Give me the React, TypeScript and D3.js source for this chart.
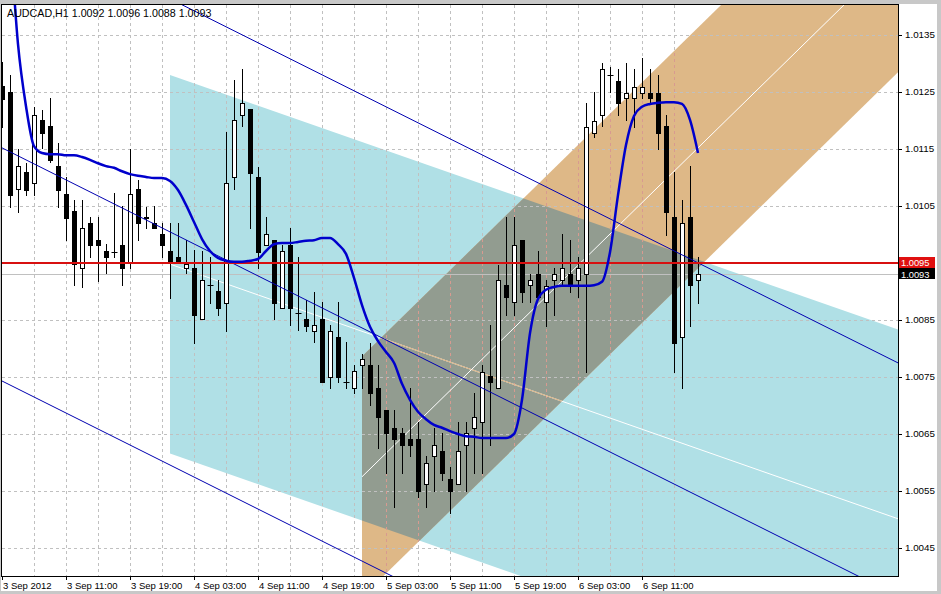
import React from 'react';
import * as d3 from 'd3';

const W = 941;
const H = 594;
const PL = 2, PR = 898, PT = 5, PB = 576;

const titleText = 'AUDCAD,H1  1.0092 1.0096 1.0088 1.0093';

const opens = [1.01261,1.01250,1.01080,1.01110,1.01090,1.01201,1.01190,1.01120,1.01071,1.01041,
1.00941,1.01020,1.00990,1.00971,1.00969,1.00982,1.00950,1.01080,1.01031,1.01020,
1.01001,1.00971,1.00961,1.00941,1.00941,1.00852,1.00911,1.00901,1.00880,1.01101,
1.01210,1.01220,1.01101,1.00982,1.00990,1.00871,1.00982,1.00862,1.00852,1.00831,
1.00852,1.00750,1.00820,1.00741,1.00731,1.00771,1.00771,1.00731,1.00692,1.00661,
1.00652,1.00641,1.00641,1.00562,1.00611,1.00620,1.00571,1.00562,1.00631,1.00661,
1.00671,1.00752,1.00731,1.00911,1.00882,1.00990,1.00911,1.00931,1.00882,1.00920,
1.00920,1.00931,1.00920,1.00931,1.01178,1.01210,1.01280,1.01269,1.01240,1.01240,
1.01248,1.01248,1.01248,1.01190,1.01031,1.00820,1.01031,1.00920];
const highs = [1.01303,1.01280,1.01150,1.01125,1.01224,1.01218,1.01240,1.01161,1.01101,1.01061,
1.01061,1.01031,1.01031,1.00983,1.01073,1.01050,1.01150,1.01096,1.01048,1.01050,
1.01020,1.01020,1.01020,1.00990,1.00973,1.00971,1.00961,1.00920,1.01180,1.01271,
1.01290,1.01220,1.01118,1.01031,1.00990,1.00982,1.01011,1.00961,1.00885,1.00899,
1.00882,1.00841,1.00882,1.00811,1.00771,1.00790,1.00810,1.00771,1.00692,1.00692,
1.00661,1.00731,1.00671,1.00611,1.00661,1.00652,1.00592,1.00671,1.00671,1.00722,
1.00771,1.00841,1.00947,1.01031,1.01031,1.00990,1.00931,1.00971,1.00920,1.00941,
1.01001,1.00990,1.00961,1.01231,1.01250,1.01301,1.01294,1.01290,1.01301,1.01290,
1.01310,1.01290,1.01280,1.01210,1.01110,1.01061,1.01120,1.00960];
const lows = [1.01189,1.01048,1.01040,1.01069,1.01069,1.01152,1.01127,1.01048,1.00990,1.00911,
1.00908,1.00961,1.00918,1.00933,1.00961,1.00911,1.00941,1.00990,1.01011,1.01011,
1.00961,1.00889,1.00950,1.00933,1.00810,1.00852,1.00880,1.00859,1.00831,1.01080,
1.01190,1.01011,1.00941,1.00982,1.00852,1.00871,1.00841,1.00833,1.00831,1.00811,
1.00741,1.00731,1.00741,1.00731,1.00722,1.00731,1.00701,1.00625,1.00582,1.00522,
1.00582,1.00611,1.00540,1.00522,1.00550,1.00569,1.00511,1.00562,1.00550,1.00582,
1.00582,1.00631,1.00731,1.00859,1.00859,1.00882,1.00882,1.00890,1.00840,1.00859,
1.00910,1.00899,1.00890,1.00759,1.01171,1.01190,1.01250,1.01210,1.01201,1.01189,
1.01240,1.01231,1.01150,1.00999,1.00759,1.00731,1.00840,1.00880];
const closes = [1.01238,1.01069,1.01120,1.01078,1.01210,1.01178,1.01131,1.01078,1.01029,1.00948,
1.01011,1.00982,1.00982,1.00961,1.00969,1.00941,1.01071,1.01020,1.01029,1.01011,
1.00982,1.00950,1.00950,1.00948,1.00859,1.00920,1.00911,1.00871,1.01090,1.01201,
1.01231,1.01108,1.00969,1.01001,1.00880,1.00971,1.00871,1.00862,1.00840,1.00841,
1.00741,1.00831,1.00750,1.00741,1.00761,1.00782,1.00722,1.00680,1.00652,1.00641,
1.00631,1.00631,1.00550,1.00599,1.00631,1.00582,1.00550,1.00620,1.00652,1.00680,
1.00759,1.00741,1.00920,1.00890,1.00982,1.00899,1.00920,1.00890,1.00910,1.00931,
1.00941,1.00910,1.00941,1.01189,1.01199,1.01290,1.01280,1.01231,1.01248,1.01259,
1.01259,1.01240,1.01178,1.01040,1.00810,1.01020,1.00911,1.00930];

const maValues = [1.01710,1.01525,1.01334,1.01225,1.01155,1.01143,1.01141,1.01141,1.01139,1.01139,
1.01136,1.01131,1.01125,1.01120,1.01117,1.01111,1.01106,1.01103,1.01101,1.01099,
1.01099,1.01094,1.01078,1.01052,1.01022,1.00992,1.00971,1.00959,1.00954,1.00952,
1.00952,1.00954,1.00957,1.00971,1.00983,1.00985,1.00985,1.00987,1.00989,1.00990,
1.00994,1.00994,1.00983,1.00966,1.00924,1.00876,1.00838,1.00813,1.00794,1.00775,
1.00738,1.00710,1.00689,1.00676,1.00666,1.00661,1.00655,1.00650,1.00646,1.00645,
1.00643,1.00643,1.00643,1.00643,1.00650,1.00710,1.00827,1.00887,1.00903,1.00908,
1.00910,1.00910,1.00910,1.00910,1.00911,1.00917,1.00969,1.01069,1.01157,1.01208,
1.01224,1.01229,1.01231,1.01232,1.01232,1.01229,1.01201,1.01143];

const priceTicks = [1.0045,1.0055,1.0065,1.0075,1.0085,1.0095,1.0105,1.0115,1.0125,1.0135];
const timeLabels = ['3 Sep 2012','3 Sep 11:00','3 Sep 19:00','4 Sep 03:00','4 Sep 11:00','4 Sep 19:00','5 Sep 03:00','5 Sep 11:00','5 Sep 19:00','6 Sep 03:00','6 Sep 11:00'];
const timeLabelBars = [0,8,16,24,32,40,48,56,64,72,80];

const redLevel = 1.0095;
const bidLevel = 1.0093;

// channels: midline anchor points (bar, price) and half-width in price
const blueChannel = { startBar: 0, startMid: 1.01152, endBar: 100, endMid: 1.00450, halfWidth: 0.00409 };
const cyanChannel = { startBar: 21, startMid: 1.00948, endBar: 87, endMid: 1.00624, halfWidth: 0.00332 };
const orangeChannel = { startBar: 45, startMid: 1.00575, endBar: 87, endMid: 1.01152, halfWidth: 0.00211 };

const LAST_BAR = 112;

const FONT = "'Liberation Sans', Arial, sans-serif";

type Ch = { startBar: number; startMid: number; endBar: number; endMid: number; halfWidth: number };
const midAt = (c: Ch, b: number) => c.startMid + (c.endMid - c.startMid) * (b - c.startBar) / (c.endBar - c.startBar);

export default function App() {
  const x = d3.scaleLinear().domain([0, LAST_BAR]).range([PL, PR]);
  const y = d3.scaleLinear().domain([1.0135, 1.0045]).range([35, 548]);

  const chPoly = (c: Ch, from: number) => {
    const pts: [number, number][] = [
      [x(from), y(midAt(c, from) + c.halfWidth)],
      [x(LAST_BAR), y(midAt(c, LAST_BAR) + c.halfWidth)],
      [x(LAST_BAR), y(midAt(c, LAST_BAR) - c.halfWidth)],
      [x(from), y(midAt(c, from) - c.halfWidth)],
    ];
    return 'M' + pts.map(p => p.join(',')).join('L') + 'Z';
  };
  const chLine = (c: Ch, from: number, off: number) =>
    `M${x(from)},${y(midAt(c, from) + off)}L${x(LAST_BAR)},${y(midAt(c, LAST_BAR) + off)}`;

  const cyanPath = chPoly(cyanChannel, cyanChannel.startBar);
  const orangePath = chPoly(orangeChannel, orangeChannel.startBar);

  const maLine = d3.line<number>()
    .x((_, i) => x(i))
    .y(v => y(v))
    .curve(d3.curveMonotoneX)(maValues) || '';

  const vGridBars: number[] = [];
  for (let b = 4; b <= 84; b += 4) vGridBars.push(b);

  return (
    <div>
      <style>{`body{margin:0;}`}</style>
      <svg width={W} height={H} style={{ display: 'block', fontFamily: FONT }}>
        <defs>
          <clipPath id="plot"><rect x={PL} y={PT} width={PR - PL} height={PB - PT} /></clipPath>
          <clipPath id="cyanClip"><path d={cyanPath} /></clipPath>
          <clipPath id="orangeClip"><path d={orangePath} /></clipPath>
        </defs>
        <rect x={0} y={0} width={W} height={H} fill="#ffffff" />
        {/* window frame */}
        <rect x={0} y={0} width={W} height={4} fill="#c8c8c8" />
        <rect x={0} y={591} width={W} height={3} fill="#c8c8c8" />
        <rect x={937} y={0} width={4} height={H} fill="#c8c8c8" />
        <rect x={0} y={0} width={1} height={H} fill="#c8c8c8" />

        <g clipPath="url(#plot)">
          {/* channel fills */}
          <path d={cyanPath} fill="#b0e0e6" />
          <path d={orangePath} fill="#deb887" />
          <g clipPath="url(#cyanClip)">
            <path d={orangePath} fill="#929c90" />
          </g>

          {/* grid */}
          {priceTicks.map(p => (
            <line key={'h' + p} x1={PL} x2={PR} y1={Math.round(y(p)) + 0.5} y2={Math.round(y(p)) + 0.5}
              stroke="#c0c0c0" strokeDasharray="3,3" />
          ))}
          {vGridBars.map(b => (
            <line key={'v' + b} x1={Math.round(x(b)) + 0.5} x2={Math.round(x(b)) + 0.5} y1={PT} y2={PB}
              stroke="#c0c0c0" strokeDasharray="3,3" />
          ))}
          <g clipPath="url(#orangeClip)">
            {vGridBars.map(b => (
              <line key={'vo' + b} x1={Math.round(x(b)) + 0.5} x2={Math.round(x(b)) + 0.5} y1={PT} y2={PB}
                stroke="#d89a90" strokeDasharray="3,3" />
            ))}
          </g>

          {/* channel midlines */}
          <path d={chLine(cyanChannel, cyanChannel.startBar, 0)} stroke="#ffffff" strokeWidth={1} fill="none" />
          <g clipPath="url(#orangeClip)">
            <path d={chLine(cyanChannel, cyanChannel.startBar, 0)} stroke="#d8b080" strokeWidth={1} fill="none" />
          </g>
          <path d={chLine(orangeChannel, orangeChannel.startBar, 0)} stroke="#ffffff" strokeWidth={1} fill="none" />

          {/* bid line */}
          <line x1={PL} x2={PR} y1={Math.round(y(bidLevel)) + 0.5} y2={Math.round(y(bidLevel)) + 0.5} stroke="#c0c0c0" />

          {/* candles */}
          {opens.map((o, i) => {
            const cx = Math.round(x(i)) + 0.5;
            const c = closes[i];
            const yo = y(o), yc = y(c);
            const top = Math.round(Math.min(yo, yc));
            const bot = Math.round(Math.max(yo, yc));
            const bull = c > o;
            const doji = bot - top < 1;
            return (
              <g key={'c' + i}>
                <line x1={cx} x2={cx} y1={Math.round(y(highs[i]))} y2={Math.round(y(lows[i])) + 1} stroke="#000" />
                {doji ? (
                  <line x1={cx - 3} x2={cx + 3} y1={top + 0.5} y2={top + 0.5} stroke="#000" />
                ) : bull ? (
                  <rect x={cx - 2} y={top + 0.5} width={4} height={bot - top} fill="#fff" stroke="#000" />
                ) : (
                  <rect x={cx - 2.5} y={top} width={5} height={bot - top + 1} fill="#000" />
                )}
              </g>
            );
          })}

          {/* blue equidistant channel */}
          {[-1, 0, 1].map(k => (
            <path key={'b' + k} d={chLine(blueChannel, -2, k * blueChannel.halfWidth)} stroke="#0000b0" strokeWidth={1} fill="none" />
          ))}

          {/* red level */}
          <line x1={PL} x2={PR} y1={y(redLevel)} y2={y(redLevel)} stroke="#d81010" strokeWidth={2} />

          {/* moving average */}
          <path d={maLine} stroke="#0000cc" strokeWidth={2.5} fill="none" strokeLinejoin="round" />
        </g>

        {/* plot frame */}
        <rect x={PL - 0.5} y={PT - 0.5} width={PR - PL + 1} height={PB - PT + 1} fill="none" stroke="#000" />

        {/* right axis */}
        {priceTicks.map(p => (
          <g key={'t' + p}>
            <line x1={PR} x2={PR + 4} y1={Math.round(y(p)) + 0.5} y2={Math.round(y(p)) + 0.5} stroke="#000" />
            {p !== redLevel && (
              <text x={905} y={y(p)} dy="0.35em" fontSize={9.8} fill="#000">{p.toFixed(4)}</text>
            )}
          </g>
        ))}
        <rect x={899} y={Math.round(y(redLevel)) - 6} width={36} height={11} fill="#e01010" />
        <text x={901} y={y(redLevel) - 0.5} dy="0.33em" fontSize={9.3} fill="#fff">{redLevel.toFixed(4)}</text>
        <rect x={899} y={Math.round(y(redLevel)) + 5} width={36} height={11} fill="#000" />
        <text x={901} y={y(bidLevel) + 0.5} dy="0.33em" fontSize={9.3} fill="#fff">{bidLevel.toFixed(4)}</text>

        {/* time axis */}
        {timeLabelBars.map((b, i) => (
          <g key={'x' + b}>
            <line x1={Math.round(x(b)) + 0.5} x2={Math.round(x(b)) + 0.5} y1={PB} y2={PB + 4} stroke="#000" />
            <text x={Math.round(x(b)) + 1} y={589} fontSize={9.5} fill="#000">{timeLabels[i]}</text>
          </g>
        ))}

        {/* title */}
        <text x={7} y={17} fontSize={10.7} fill="#000">{titleText}</text>
      </svg>
    </div>
  );
}
